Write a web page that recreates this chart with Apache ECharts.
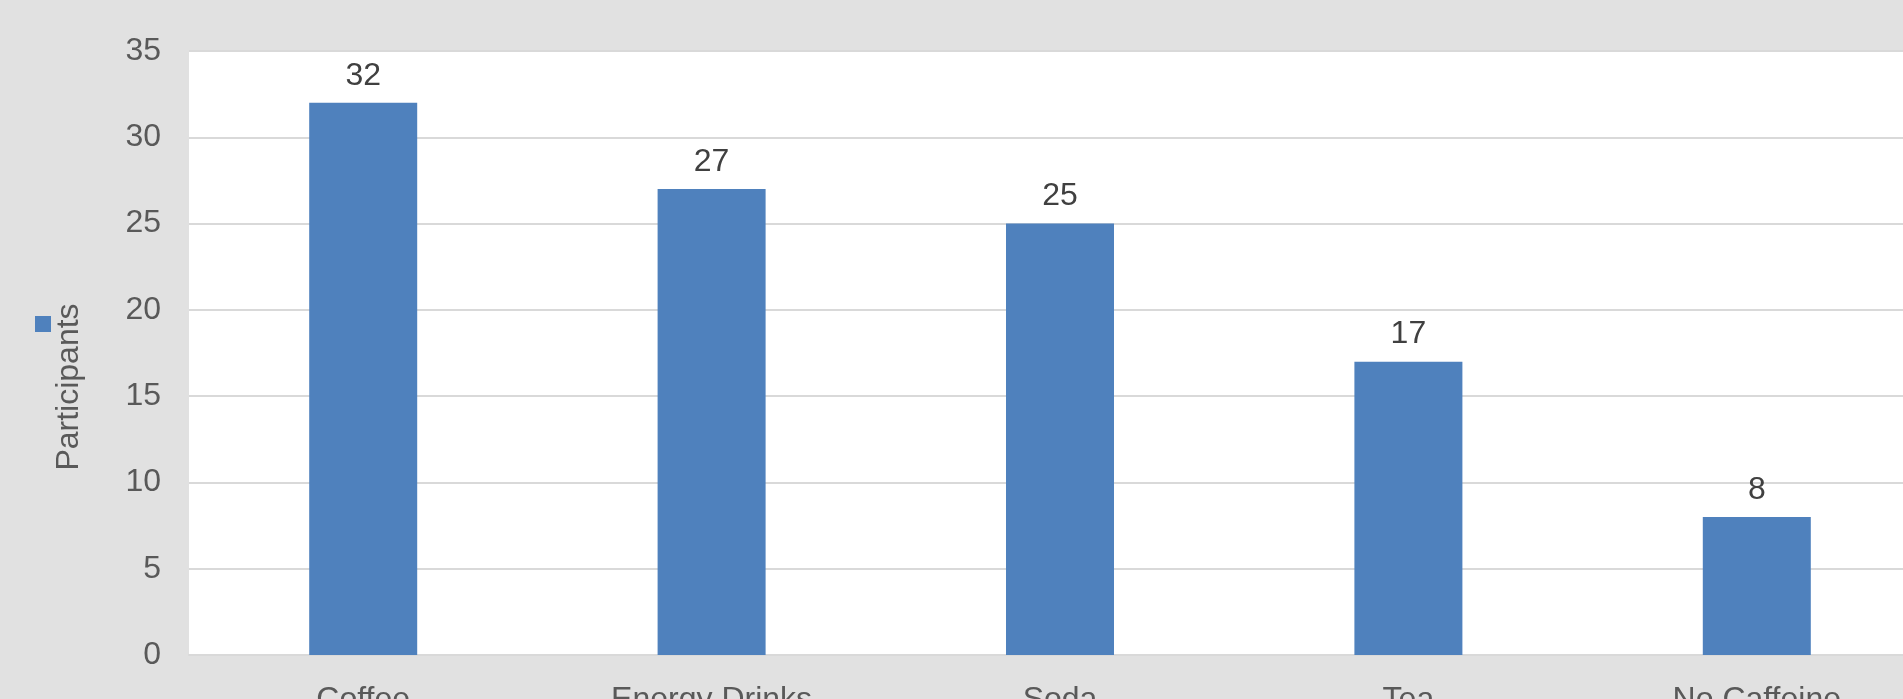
<!DOCTYPE html>
<html>
<head>
<meta charset="utf-8">
<script src="https://cdn.jsdelivr.net/npm/echarts@6/dist/echarts.min.js"></script>
<style>
html,body{margin:0;padding:0;background:#e1e1e1;}
#chart{width:1903px;height:699px;}
</style>
</head>
<body>
<div id="chart"></div>
<script>
const categories = ['Coffee', 'Energy Drinks', 'Soda', 'Tea', 'No Caffeine'];
const participants = [32, 27, 25, 17, 8];
const seriesName = 'Participants';

const chart = echarts.init(document.getElementById('chart'));
chart.setOption({
  backgroundColor: '#e1e1e1',
  animation: false,
  textStyle: { fontFamily: 'Liberation Sans, Arial, sans-serif' },
  legend: {
    left: 35, top: 316,
    padding: 0,
    itemWidth: 16, itemHeight: 16,
    icon: 'rect',
    formatter: function () { return ''; },
    itemGap: 0,
    data: [seriesName]
  },
  grid: {
    left: 189, right: -28, top: 51, bottom: 44,
    outerBoundsMode: 'none',
    show: true, backgroundColor: '#ffffff', borderWidth: 0,
    containLabel: false
  },
  xAxis: {
    type: 'category',
    data: categories,
    axisLine: { show: true, lineStyle: { color: '#d9d9d9', width: 2 } },
    axisTick: { show: false },
    axisLabel: { color: '#595959', fontSize: 32, margin: 29 }
  },
  yAxis: {
    type: 'value',
    min: 0, max: 35, interval: 5,
    name: seriesName,
    nameLocation: 'middle',
    nameRotate: 90,
    nameGap: 104,
    nameTextStyle: { color: '#595959', fontSize: 32, padding: [0, 68, 0, 0] },
    axisLine: { show: false },
    axisTick: { show: false },
    axisLabel: { color: '#595959', fontSize: 32, margin: 28 },
    splitLine: { lineStyle: { color: '#d9d9d9', width: 2 } }
  },
  series: [{
    name: seriesName,
    type: 'bar',
    data: participants,
    barWidth: '31%',
    itemStyle: { color: '#4f81bd' },
    label: {
      show: true, position: 'top', distance: 11,
      color: '#404040', fontSize: 32
    }
  }]
});
</script>
</body>
</html>
